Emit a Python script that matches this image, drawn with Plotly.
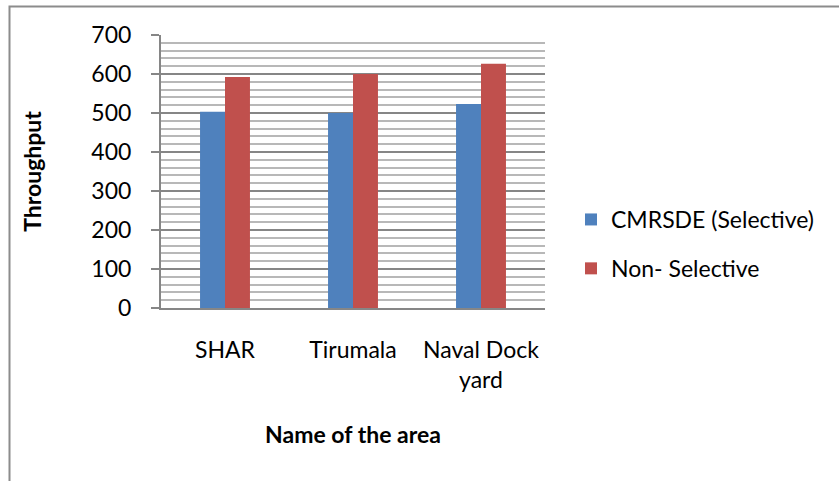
import plotly.graph_objects as go

# Throughput per area, selective vs non-selective
areas = ["SHAR", "Tirumala", "Naval Dock<br>yard"]
selective = [503, 500, 523]
non_selective = [592, 600, 626]
series_names = ["CMRSDE (Selective)", "Non- Selective"]
y_ticks = [0, 100, 200, 300, 400, 500, 600, 700]

FONT = "Lato, Calibri, Arial, sans-serif"
W, H = 839, 481
L, R, T, B = 161, 294, 35, 173  # plot area margins in px
pw, ph = W - L - R, H - T - B


def px_x(x):
    return (x - L) / pw


def px_y(y):
    return (H - B - y) / ph


fig = go.Figure()
fig.add_trace(go.Bar(x=areas, y=selective, name=series_names[0],
                     marker=dict(color="#4F81BD", line=dict(width=0)),
                     legendgroup="a"))
fig.add_trace(go.Bar(x=areas, y=non_selective, name=series_names[1],
                     marker=dict(color="#C0504D", line=dict(width=0)),
                     legendgroup="b"))

fig.update_layout(
    width=W, height=H,
    margin=dict(l=L, r=R, t=T, b=B, pad=0, autoexpand=False),
    paper_bgcolor="white", plot_bgcolor="white",
    font=dict(family=FONT, size=23, color="#000000"),
    barmode="group", bargap=0.61, bargroupgap=0,
    showlegend=True,
    legend=dict(x=px_x(571), xanchor="left", y=px_y(198), yanchor="top",
                font=dict(family=FONT, size=23),
                traceorder="grouped", tracegroupgap=16,
                itemsizing="constant",
                bgcolor="rgba(0,0,0,0)", borderwidth=0),
    xaxis=dict(
        automargin=False,
        showgrid=False, zeroline=False,
        showline=True, linecolor="#868686", linewidth=2,
        ticks="", ticklabelstandoff=20,
        tickfont=dict(family=FONT, size=23),
        title=dict(text="<b>Name of the area</b>", standoff=35,
                   font=dict(family=FONT, size=23)),
    ),
    yaxis=dict(
        automargin=False,
        range=[0, 700], tickvals=y_ticks,
        showgrid=True, gridcolor="#868686", gridwidth=1.5,
        minor=dict(dtick=20, showgrid=True, gridcolor="#b8b8b8", gridwidth=1.5,
                   ticks=""),
        zeroline=False,
        showline=True, linecolor="#868686", linewidth=2,
        ticks="outside", ticklen=8, tickcolor="#868686", tickwidth=2,
        ticklabelstandoff=15,
        tickfont=dict(family=FONT, size=23),
        title=dict(text="<b>Throughput</b>", standoff=43,
                   font=dict(family=FONT, size=23)),
    ),
    shapes=[
        dict(type="rect", xref="paper", yref="paper",
             x0=px_x(9.5), x1=px_x(900), y0=px_y(520), y1=px_y(6.5),
             line=dict(color="#8c8c8c", width=2), fillcolor="rgba(0,0,0,0)",
             layer="above"),
    ],
)

fig.write_html("out.html")
